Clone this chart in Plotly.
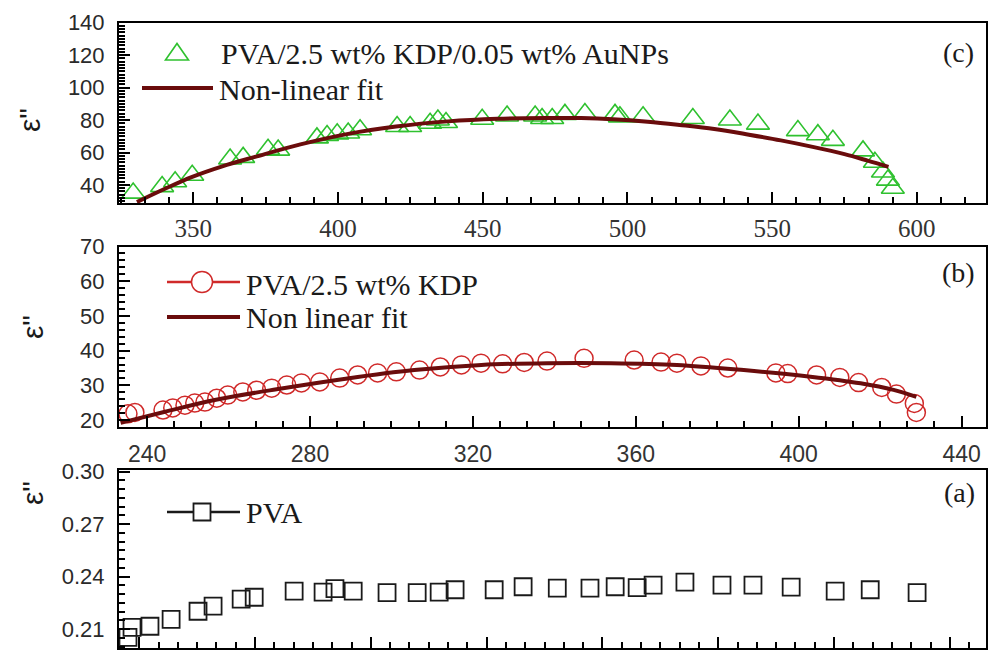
import plotly.graph_objects as go
from plotly.subplots import make_subplots

# ---- panel (c): PVA/2.5 wt% KDP/0.05 wt% AuNPs ----
c_x = [329.2, 339.2, 343.7, 349.6, 362.7, 367.2, 375.8, 379.3, 392.7, 396.2,
       399.7, 403.5, 407.6, 420.4, 424.9, 431.8, 434.5, 437.3, 449.8, 458.4,
       468.1, 470.5, 474.0, 478.4, 485.3, 495.7, 497.4, 505.4, 522.6, 535.4,
       545.1, 558.9, 565.8, 571.0, 581.4, 585.5, 588.3, 590.0, 591.7]
c_y = [35.0, 39.0, 42.0, 46.0, 56.0, 57.0, 62.0, 61.5, 69.0, 70.5,
       71.5, 72.0, 74.0, 76.0, 76.0, 78.0, 80.0, 78.5, 80.5, 82.5,
       82.5, 81.0, 81.0, 83.5, 84.0, 83.5, 82.0, 82.0, 81.0, 80.0,
       77.5, 73.5, 71.0, 67.5, 61.0, 54.0, 48.0, 43.0, 38.0]
c_fit_x = [330.5, 340, 349.6, 360, 371.3, 387, 403.5, 420, 438, 455, 472,
           484, 495, 507, 518, 530, 542, 553, 564, 575, 583, 590.2]
c_fit_y = [29.5, 37.5, 45.0, 51.5, 57.3, 65.0, 71.5, 76.0, 79.2, 80.8, 81.3,
           81.2, 80.5, 79.0, 77.0, 74.5, 71.0, 67.5, 63.5, 59.0, 55.0, 51.2]

# ---- panel (b): PVA/2.5 wt% KDP ----
b_x = [235.3, 237.0, 243.9, 246.3, 249.3, 251.7, 254.2, 257.1, 259.8, 263.5,
       266.9, 270.6, 274.3, 277.9, 282.4, 287.3, 291.7, 296.6, 301.2, 306.9,
       312.0, 317.2, 322.0, 327.3, 332.6, 338.2, 347.3, 359.6, 366.2, 370.1,
       376.0, 382.6, 394.4, 397.3, 404.4, 410.1, 414.7, 420.4, 424.0, 428.4,
       428.9]
b_y = [21.8, 22.2, 22.9, 23.5, 24.3, 24.9, 25.2, 26.3, 27.2, 28.1,
       28.6, 29.2, 30.1, 30.7, 31.0, 32.1, 33.0, 33.6, 33.9, 34.4,
       35.3, 35.9, 36.4, 36.2, 36.6, 37.0, 37.8, 37.3, 36.7, 36.4,
       35.6, 35.0, 33.6, 33.4, 33.0, 32.3, 30.8, 29.4, 27.5, 24.8,
       22.2]
b_fit_x = [233.5, 244.4, 256.6, 273.0, 289.2, 305.6, 322.1, 338.2, 353.9,
           370.1, 386.5, 402.9, 415.2, 423.3, 428.9]
b_fit_y = [19.2, 22.4, 25.8, 29.1, 32.0, 34.4, 35.9, 36.4, 36.4,
           35.9, 34.4, 32.5, 30.6, 28.7, 26.7]

# ---- panel (a): PVA ----
a_x = [156.1, 157.5, 163.7, 171.0, 180.3, 185.5, 195.2, 199.7, 213.5, 223.5,
       227.6, 233.9, 245.6, 256.0, 263.6, 269.1, 282.6, 292.6, 304.4, 315.7,
       324.4, 332.0, 337.5, 348.5, 361.3, 372.0, 385.2, 400.4, 412.5, 428.7]
a_y = [0.2053, 0.2110, 0.2116, 0.2156, 0.2202, 0.2231, 0.2271, 0.2282, 0.2317, 0.2311,
       0.2331, 0.2317, 0.2308, 0.2308, 0.2311, 0.2325, 0.2325, 0.2342, 0.2334, 0.2334,
       0.2342, 0.2337, 0.2351, 0.2368, 0.2351, 0.2351, 0.2340, 0.2317, 0.2325, 0.2308]

# tick labels
c_xticks = [350, 400, 450, 500, 550, 600]
c_yticks = [40, 60, 80, 100, 120, 140]
b_xticks = [240, 280, 320, 360, 400, 440]
b_yticks = [20, 30, 40, 50, 60, 70]
a_xticks = [160, 200, 240, 280, 320, 360, 400, 440]
a_yticks = [0.21, 0.24, 0.27, 0.30]

# legend / panel texts
c_names = ["PVA/2.5 wt% KDP/0.05 wt% AuNPs", "Non-linear fit"]
b_names = ["PVA/2.5 wt% KDP", "Non linear fit"]
a_names = ["PVA"]
panel_tags = ["(c)", "(b)", "(a)"]
y_title = "ε\""

W, H = 988, 651
ML, MR = 119, 2
GREEN = "#2fc12f"
RED = "#d02a2a"
FIT = "#6a0c0c"
INK = "#1a1a1a"
SERIF = "Liberation Serif, Times New Roman, serif"
SANS = "Liberation Sans, Arial, sans-serif"


def px(p):
    return (p - ML) / (W - ML - MR)


def py(p):
    return 1 - p / H


fig = make_subplots(rows=3, cols=1)

fig.add_trace(go.Scatter(x=c_x, y=c_y, mode="markers", name=c_names[0],
                         marker=dict(symbol="triangle-up-open", size=20, color=GREEN,
                                     line=dict(width=1.6))), row=1, col=1)
fig.add_trace(go.Scatter(x=c_fit_x, y=c_fit_y, mode="lines", name=c_names[1],
                         line=dict(color=FIT, width=4, shape="spline")), row=1, col=1)

fig.add_trace(go.Scatter(x=b_x, y=b_y, mode="markers", name=b_names[0],
                         marker=dict(symbol="circle-open", size=18, color=RED,
                                     line=dict(width=1.5))), row=2, col=1)
fig.add_trace(go.Scatter(x=b_fit_x, y=b_fit_y, mode="lines", name=b_names[1],
                         line=dict(color=FIT, width=4, shape="spline")), row=2, col=1)

fig.add_trace(go.Scatter(x=a_x, y=a_y, mode="markers", name=a_names[0],
                         marker=dict(symbol="square-open", size=17, color=INK,
                                     line=dict(width=1.8))), row=3, col=1)

frame = dict(showline=True, linewidth=2, linecolor="black", mirror=True,
             ticks="inside", ticklen=11, tickwidth=2, tickcolor="black",
             showgrid=False, zeroline=False, automargin=False)
minor_style = dict(ticks="inside", ticklen=6, tickwidth=1.5, tickcolor="black")

fig.update_layout(
    width=W, height=H, margin=dict(l=ML, r=MR, t=0, b=0),
    paper_bgcolor="white", plot_bgcolor="white", showlegend=False,
    xaxis=dict(frame, domain=[0, 1], range=[324.3, 623.9], tickvals=c_xticks,
               minor=dict(minor_style, tick0=350, dtick=50 / 6),
               tickfont=dict(family=SERIF, size=25, color="#333"), ticklabelstandoff=2),
    yaxis=dict(frame, domain=[py(203), py(22.7)], range=[28.9, 140], tickvals=c_yticks,
               minor=dict(minor_style, tick0=40, dtick=2),
               tickfont=dict(family=SANS, size=22, color="#2a2a2a"), ticklabelstandoff=8),
    xaxis2=dict(frame, domain=[0, 1], range=[233.1, 446.0], tickvals=b_xticks,
                minor=dict(minor_style, tick0=240, dtick=40 / 6),
                tickfont=dict(family=SANS, size=23, color="#333"), ticklabelstandoff=6),
    yaxis2=dict(frame, domain=[py(426.7), py(246.5)], range=[18.1, 70], tickvals=b_yticks,
                minor=dict(minor_style, tick0=20, dtick=2),
                tickfont=dict(family=SANS, size=22, color="#2a2a2a"), ticklabelstandoff=8),
    xaxis3=dict(frame, domain=[0, 1], range=[153.0, 452.5], tickvals=a_xticks,
                showticklabels=False,
                minor=dict(minor_style, tick0=160, dtick=40 / 6)),
    yaxis3=dict(frame, domain=[py(648.3), py(470)], range=[0.199, 0.301], tickvals=a_yticks,
                tickformat=".2f",
                minor=dict(minor_style, tick0=0.21, dtick=0.005),
                tickfont=dict(family=SANS, size=22, color="#2a2a2a"), ticklabelstandoff=8),
)

shapes = []
annotations = []


def label(x, y, text, size, family=SERIF, xanchor="left", angle=0):
    annotations.append(dict(x=px(x), y=py(y), xref="paper", yref="paper", text=text,
                            showarrow=False, xanchor=xanchor, yanchor="middle",
                            textangle=angle, font=dict(family=family, size=size, color=INK)))


def hline(x0, x1, y, color, width):
    shapes.append(dict(type="line", xref="paper", yref="paper", x0=px(x0), x1=px(x1),
                       y0=py(y), y1=py(y), line=dict(color=color, width=width)))


# legend keys, panel (c)
tri = "M {:.5f},{:.5f} L {:.5f},{:.5f} L {:.5f},{:.5f} Z".format(
    px(165.5), py(60), px(188.5), py(60), px(177), py(43.5))
shapes.append(dict(type="path", xref="paper", yref="paper", path=tri,
                   line=dict(color=GREEN, width=1.6)))
label(219, 54, c_names[0], 30)
hline(142, 213, 88, FIT, 4)
label(217, 89, c_names[1], 30)

# legend keys, panel (b)
hline(167, 240, 282, RED, 2.5)
shapes.append(dict(type="circle", xref="paper", yref="paper", x0=px(191.5), x1=px(212.5),
                   y0=py(292.5), y1=py(271.5), fillcolor="white",
                   line=dict(color=RED, width=1.5)))
label(244, 284.5, b_names[0], 30)
hline(167, 240, 317, FIT, 4)
label(244, 317.5, b_names[1], 30)

# legend key, panel (a)
hline(167, 240, 512, INK, 2.5)
shapes.append(dict(type="rect", xref="paper", yref="paper", x0=px(193.5), x1=px(210.5),
                   y0=py(520.5), y1=py(503.5), fillcolor="white",
                   line=dict(color=INK, width=1.8)))
label(244, 512, a_names[0], 30)

# panel tags
label(976, 52, panel_tags[0], 28, xanchor="right")
label(977, 272.5, panel_tags[1], 28, xanchor="right")
label(977, 492.5, panel_tags[2], 28, xanchor="right")

# y-axis titles
label(30, 120, y_title, 30, family=SANS, xanchor="center", angle=-90)
label(32, 327, y_title, 30, family=SANS, xanchor="center", angle=-90)
label(32, 493, y_title, 30, family=SANS, xanchor="center", angle=-90)

fig.update_layout(shapes=shapes, annotations=annotations)

fig.write_html("out.html")
